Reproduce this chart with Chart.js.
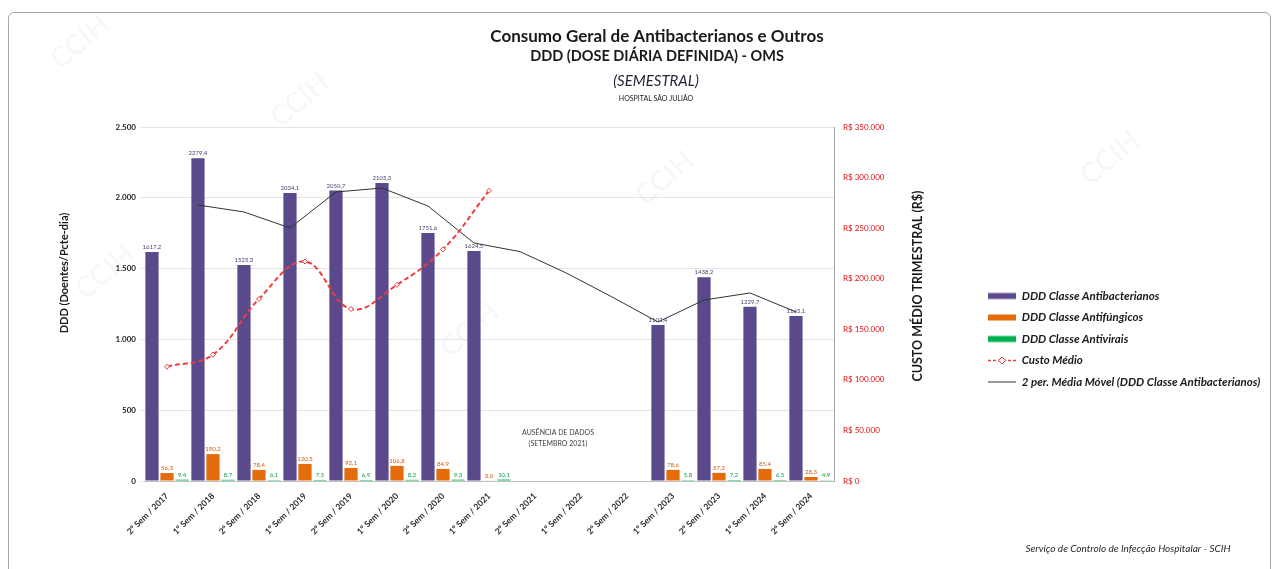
<!DOCTYPE html>
<html lang="pt">
<head>
<meta charset="utf-8">
<title>Consumo Geral de Antibacterianos e Outros</title>
<script src="https://cdn.jsdelivr.net/npm/chart.js@4.4.1/dist/chart.umd.min.js"></script>
<style>
    html, body { margin: 0; padding: 0; background: #fff; }
    #wrap { position: relative; width: 1275px; height: 569px; overflow: hidden; }
    #frame {
        position: absolute; left: 8px; top: 12px; width: 1261px; height: 570px;
        border: 1px solid #a6a6a6; border-radius: 6px; pointer-events: none;
    }
</style>
</head>
<body>
<div id="wrap">
    <canvas id="grafico" width="1275" height="569"></canvas>
    <div id="frame"></div>
</div>
<script>
// categorias (semestres)
const semestres = [
    '2º Sem / 2017', '1º Sem / 2018', '2º Sem / 2018', '1º Sem / 2019', '2º Sem / 2019',
    '1º Sem / 2020', '2º Sem / 2020', '1º Sem / 2021', '2º Sem / 2021', '1º Sem / 2022',
    '2º Sem / 2022', '1º Sem / 2023', '2º Sem / 2023', '1º Sem / 2024', '2º Sem / 2024'
];

// DDD por classe (sem dados entre 2º Sem/2021 e 2º Sem/2022)
const dddAntibacterianos = [1617.2, 2279.4, 1525.3, 2034.1, 2050.7, 2105.3, 1751.6, 1624.5, null, null, null, 1102.4, 1438.2, 1229.7, 1165.1];
const dddAntifungicos = [56.3, 190.2, 78.4, 120.5, 92.1, 106.8, 84.9, 3.0, null, null, null, 78.6, 57.2, 85.4, 28.3];
const dddAntivirais = [9.4, 8.7, 6.1, 7.5, 6.9, 8.2, 9.3, 10.1, null, null, null, 5.8, 7.2, 6.5, 4.9];

// custo médio (R$) - eixo da direita
const custoMedio = [113000, 125000, 180000, 217000, 170000, 194000, 229000, 287000, null, null, null, null, null, null, null];

// média móvel de 2 períodos (linha de tendência)
const mediaMovel = [null, 1949, 1900, 1787, 2041, 2069, 1942, 1681, 1620, 1470, 1300, 1123, 1278, 1328, 1194];

// ticks
const ticksDDD = [0, 500, 1000, 1500, 2000, 2500];
const ticksCusto = [0, 50000, 100000, 150000, 200000, 250000, 300000, 350000];

const FONTE = 'Lato, "Open Sans", "DejaVu Sans", sans-serif';
const corRoxo = '#5b4a8b';
const corLaranja = '#e46c0a';
const corVerde = '#00b050';
const corVermelho = '#f03c3c';

function milhar(v) {
    return String(v).replace(/\B(?=(\d{3})+(?!\d))/g, '.');
}

function decimal(v) {
    return v.toFixed(1).replace('.', ',');
}

// small canvases used as legend symbols
function simboloLegenda(tipo, cor) {
    const c = document.createElement('canvas');
    c.width = 28;
    c.height = 9;
    const g = c.getContext('2d');
    if (tipo === 'barra') {
        g.fillStyle = cor;
        g.fillRect(0, 1.5, 28, 6);
    } else if (tipo === 'tracejado') {
        g.strokeStyle = cor;
        g.lineWidth = 1.5;
        g.setLineDash([3, 2]);
        g.beginPath();
        g.moveTo(0, 4.5);
        g.lineTo(28, 4.5);
        g.stroke();
        g.setLineDash([]);
        g.fillStyle = '#fff';
        g.beginPath();
        g.moveTo(14, 1); g.lineTo(17.5, 4.5); g.lineTo(14, 8); g.lineTo(10.5, 4.5);
        g.closePath();
        g.fill();
        g.lineWidth = 1;
        g.stroke();
    } else {
        g.strokeStyle = cor;
        g.lineWidth = 1;
        g.beginPath();
        g.moveTo(0, 4.5);
        g.lineTo(28, 4.5);
        g.stroke();
    }
    return c;
}

// titles, axis titles, notes and background
const textosGrafico = {
    id: 'textosGrafico',
    beforeDraw(chart) {
        const ctx = chart.ctx;
        ctx.save();
        ctx.fillStyle = '#fff';
        ctx.fillRect(0, 0, chart.width, chart.height);
        // marca d'água
        ctx.fillStyle = 'rgba(0,0,0,0.035)';
        ctx.font = '28px ' + FONTE;
        ctx.textAlign = 'center';
        ctx.textBaseline = 'middle';
        [[80, 42], [300, 100], [105, 272], [665, 178], [1110, 158], [470, 330]].forEach(function (p) {
            ctx.save();
            ctx.translate(p[0], p[1]);
            ctx.rotate(-0.7);
            ctx.fillText('CCIH', 0, 0);
            ctx.restore();
        });
        ctx.restore();
    },
    afterDraw(chart) {
        const ctx = chart.ctx;
        const area = chart.chartArea;
        ctx.save();
        ctx.textAlign = 'center';
        ctx.textBaseline = 'middle';
        ctx.fillStyle = '#1a1a1a';

        ctx.font = 'bold 17px ' + FONTE;
        ctx.fillText('Consumo Geral de Antibacterianos e Outros', 657, 37);
        ctx.font = 'bold 14.5px ' + FONTE;
        ctx.fillText('DDD (DOSE DIÁRIA DEFINIDA) - OMS', 657, 56);
        ctx.font = 'italic 15px ' + FONTE;
        ctx.fillStyle = '#24283a';
        ctx.fillText('(SEMESTRAL)', 656, 81);
        ctx.font = '7px ' + FONTE;
        ctx.fillStyle = '#1a1a1a';
        ctx.fillText('HOSPITAL SÃO JULIÃO', 656, 99);

        // axis titles
        ctx.save();
        ctx.translate(64, 273);
        ctx.rotate(-Math.PI / 2);
        ctx.font = 'bold 11px ' + FONTE;
        ctx.fillText('DDD (Doentes/Pcte-dia)', 0, 0);
        ctx.restore();

        ctx.save();
        ctx.translate(area.right + 84, 286);
        ctx.rotate(-Math.PI / 2);
        ctx.font = 'bold 12.5px ' + FONTE;
        ctx.fillText('CUSTO MÉDIO TRIMESTRAL (R$)', 0, 0);
        ctx.restore();

        // nota na lacuna de dados
        const x = chart.scales.x;
        const meio = (x.getPixelForValue(8) + x.getPixelForValue(9)) / 2;
        ctx.font = '7px ' + FONTE;
        ctx.fillStyle = '#404040';
        ctx.fillText('AUSÊNCIA DE DADOS', meio, 433);
        ctx.fillText('(SETEMBRO 2021)', meio, 444);

        // rodapé
        ctx.font = 'italic 10px ' + FONTE;
        ctx.fillStyle = '#262626';
        ctx.fillText('Serviço de Controlo de Infecção Hospitalar - SCIH', 1128, 549);
        ctx.restore();
    }
};

// value labels above the bars
const rotulosBarras = {
    id: 'rotulosBarras',
    afterDatasetsDraw(chart) {
        const ctx = chart.ctx;
        const cores = ['#4a3d6e', '#d0580a', '#0a9a48'];
        ctx.save();
        ctx.font = '6px ' + FONTE;
        ctx.textAlign = 'center';
        ctx.textBaseline = 'bottom';
        [0, 1, 2].forEach(function (i) {
            const meta = chart.getDatasetMeta(i);
            const valores = chart.data.datasets[i].data;
            meta.data.forEach(function (barra, j) {
                if (valores[j] === null) return;
                ctx.fillStyle = cores[i];
                ctx.fillText(decimal(valores[j]), barra.x, barra.y - 2);
            });
        });
        ctx.restore();
    }
};

// Excel draws the moving-average trendline over the first bar of each group
const tendenciaNaBarra = {
    id: 'tendenciaNaBarra',
    afterDatasetsUpdate(chart) {
        const barras = chart.getDatasetMeta(0).data;
        const x = chart.scales.x;
        const desvio = barras[0].x - x.getPixelForValue(0);
        chart.getDatasetMeta(4).data.forEach(function (ponto) {
            ponto.x += desvio;
        });
    }
};

// fixed legend width so it sits where the original one is
const larguraLegenda = {
    id: 'larguraLegenda',
    beforeInit(chart) {
        const fitOriginal = chart.legend.fit;
        chart.legend.fit = function () {
            fitOriginal.call(this);
            this.width = 297;
        };
    }
};

const simbolos = [
    simboloLegenda('barra', corRoxo),
    simboloLegenda('barra', corLaranja),
    simboloLegenda('barra', corVerde),
    simboloLegenda('tracejado', corVermelho),
    simboloLegenda('linha', '#333333')
];

const ctx = document.getElementById('grafico').getContext('2d');
new Chart(ctx, {
    data: {
        labels: semestres,
        datasets: [
            {
                type: 'bar',
                label: 'DDD Classe Antibacterianos',
                data: dddAntibacterianos,
                backgroundColor: corRoxo,
                yAxisID: 'y',
                order: 2,
                categoryPercentage: 0.98,
                barPercentage: 0.88
            },
            {
                type: 'bar',
                label: 'DDD Classe Antifúngicos',
                data: dddAntifungicos,
                backgroundColor: corLaranja,
                yAxisID: 'y',
                order: 2,
                categoryPercentage: 0.98,
                barPercentage: 0.88
            },
            {
                type: 'bar',
                label: 'DDD Classe Antivirais',
                data: dddAntivirais,
                backgroundColor: corVerde,
                yAxisID: 'y',
                order: 2,
                categoryPercentage: 0.98,
                barPercentage: 0.88
            },
            {
                type: 'line',
                label: 'Custo Médio',
                data: custoMedio,
                yAxisID: 'y1',
                borderColor: corVermelho,
                borderWidth: 2,
                borderDash: [5, 3],
                tension: 0.4,
                pointStyle: 'rectRot',
                pointRadius: 2.5,
                pointBackgroundColor: '#fff',
                pointBorderColor: corVermelho,
                pointBorderWidth: 1,
                spanGaps: false,
                order: 0
            },
            {
                type: 'line',
                label: '2 per. Média Móvel (DDD Classe Antibacterianos)',
                data: mediaMovel,
                yAxisID: 'y',
                borderColor: '#333333',
                borderWidth: 1,
                pointRadius: 0,
                tension: 0,
                spanGaps: true,
                order: 1
            }
        ]
    },
    options: {
        responsive: false,
        animation: false,
        layout: {
            padding: { top: 127, bottom: 18, left: 0, right: 0 }
        },
        plugins: {
            title: { display: false },
            tooltip: { enabled: false },
            legend: {
                position: 'right',
                align: 'center',
                labels: {
                    usePointStyle: true,
                    pointStyleWidth: 28,
                    boxHeight: 9,
                    padding: 10,
                    color: '#1a1a1a',
                    font: { family: FONTE, size: 11.5, weight: 'bold', style: 'italic' },
                    generateLabels: function (chart) {
                        return chart.data.datasets.map(function (ds, i) {
                            return {
                                text: ds.label,
                                datasetIndex: i,
                                pointStyle: simbolos[i],
                                fillStyle: 'transparent',
                                strokeStyle: 'transparent',
                                lineWidth: 0,
                                fontColor: '#1a1a1a',
                                hidden: false
                            };
                        });
                    }
                }
            }
        },
        scales: {
            x: {
                type: 'category',
                offset: true,
                grid: { display: false },
                border: { color: '#bfbfbf' },
                ticks: {
                    minRotation: 45,
                    maxRotation: 45,
                    autoSkip: false,
                    padding: 2,
                    color: '#262626',
                    font: { family: FONTE, size: 8.5, weight: 'bold' }
                },
                afterFit: function (scale) { scale.height = 70; }
            },
            y: {
                position: 'left',
                min: 0,
                max: 2500,
                afterBuildTicks: function (scale) {
                    scale.ticks = ticksDDD.map(function (v) { return { value: v }; });
                },
                ticks: {
                    padding: 5,
                    color: '#262626',
                    font: { family: FONTE, size: 8, weight: 'bold' },
                    callback: function (v) { return milhar(v); }
                },
                grid: { color: '#e4e4e4', tickLength: 3 },
                border: { display: false },
                afterFit: function (scale) { scale.width = 144; }
            },
            y1: {
                position: 'right',
                min: 0,
                max: 350000,
                afterBuildTicks: function (scale) {
                    scale.ticks = ticksCusto.map(function (v) { return { value: v }; });
                },
                ticks: {
                    padding: 9,
                    color: '#e01010',
                    font: { family: FONTE, size: 8 },
                    callback: function (v) { return 'R$ ' + milhar(v); }
                },
                grid: { drawOnChartArea: false, drawTicks: false },
                border: { color: '#a6a6a6' },
                afterFit: function (scale) { scale.width = 144; }
            }
        }
    },
    plugins: [textosGrafico, rotulosBarras, tendenciaNaBarra, larguraLegenda]
});
</script>
</body>
</html>
